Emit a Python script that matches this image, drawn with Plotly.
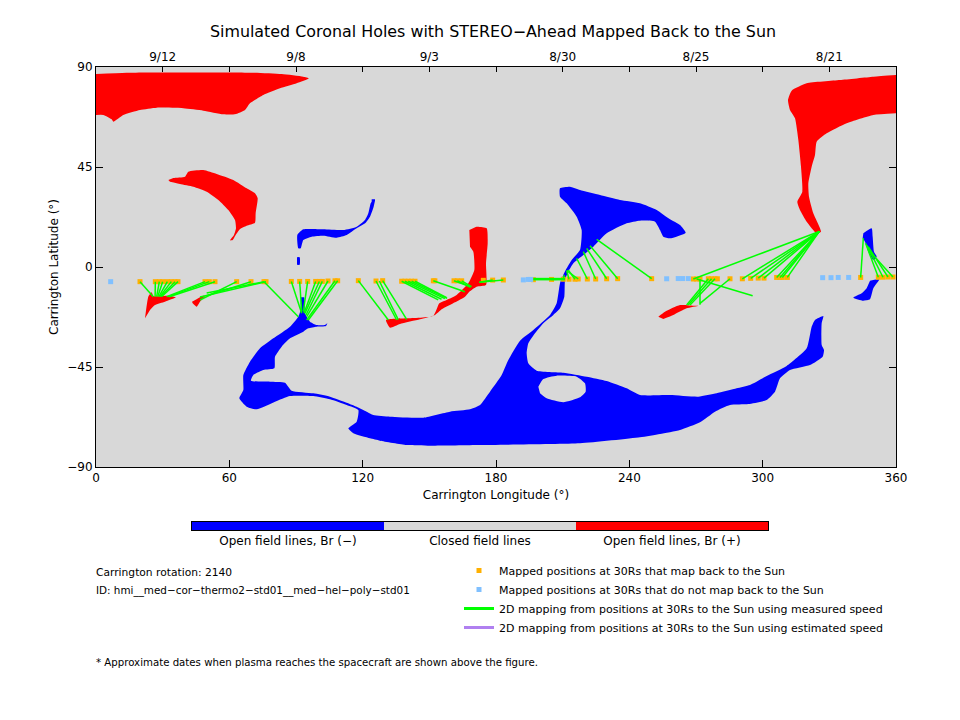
import plotly.graph_objects as go

# coronal hole outlines, (lon, lat) in degrees
red_cap_left = [(0,86.85),(13.8,87.45),(70.8,87.45),(83.55,86.85),(93.3,85.65),(95.85,84.9),(90.3,82.65),(82.8,80.4),
                (75.3,77.4),(69.3,73.65),(67.05,70.65),(62.55,68.7),(57.3,68.7),(48.3,70.35),(39.3,71.4),(27.3,71.7),
                (19.8,70.65),(12.3,68.4),(7.8,65.4),(7.05,66.45),(3.3,68.4),(0,68.4)]
red_crescent = [(32.55,39.15),(34.8,40.05),(40.05,40.65),(41.55,42.9),(48.3,43.65),(54.3,41.85),(61.8,39.15),(67.8,35.4),
                (71.55,33.15),(72.75,30.9),(71.85,24.15),(71.55,19.95),(67.8,18.6),(64.8,17.1),(62.85,14.4),(61.5,12.15),
                (60.3,12.0),(62.1,14.4),(63,17.4),(62.55,21.15),(59.55,25.65),(55.05,30.15),(49.8,33.9),(43.8,36.15),
                (37.8,37.35),(33.3,38.4)]
red_mid = [(168,16.65),(171.3,18.15),(175.8,17.4),(176.25,10.65),(175.5,1.65),(175.5,-8.1),(171.3,-8.85),(168,-11.1),
           (166.05,-13.35),(161.55,-15.9),(155.55,-19.05),(152.55,-21.6),(145.8,-23.55),(136.8,-25.65),(132.3,-27.3),
           (130.5,-23.85),(139.8,-23.1),(151.8,-21.9),(154.5,-16.35),(157.8,-14.85),(162.3,-12.6),(167.55,-7.35),
           (170.25,-1.35),(169.8,6.9),(168.3,9.15)]
red_cap_right = [(360,86.4),(349.8,85.65),(334.8,84.15),(319.8,82.65),(313.05,79.35),(311.4,75.15),(312.3,70.65),(314.55,66.9),
                 (316.05,57.15),(317.25,45.15),(317.85,33.9),(315.6,29.4),(316.8,25.65),(319.8,20.4),(324.3,15.15),(326.25,15.9),
                 (322.8,24.15),(320.85,31.65),(320.55,37.65),(322.05,45.15),(323.55,50.4),(324.3,56.4),(328.8,60.15),(337.8,64.65),
                 (349.8,68.4),(360,69.15)]
red_sliver = [(253.05,-22.35),(256.05,-20.1),(262.8,-17.1),(269.55,-17.4),(271.05,-17.4),(265.8,-18.6),(259.8,-21.6),(255.3,-23.4)]
red_fan = [(22.05,-23.1),(23.55,-13.35),(25.05,-11.4),(25.8,-13.05),(32.55,-12.9),(36,-13.65),(31.05,-15.6),(26.55,-17.1),(24.3,-19.35)]
red_spot = [(43.2,-15.6),(48.3,-12.9),(49.05,-13.05),(46.8,-15.6),(45.3,-17.85),(43.5,-16.35)]

blue_hook = [(124.05,30.45),(125.55,30.45),(124.95,27.15),(123.3,22.65),(121.05,19.65),(117.3,17.4),(112.8,14.4),(108.3,13.2),
             (102.3,14.1),(97.05,13.65),(93.3,12.15),(92.1,8.4),(91.05,8.4),(90.6,14.4),(93.3,16.95),(102.3,16.95),(111.3,16.65),
             (117.3,18.15),(121.05,21.15),(122.55,24.15),(123.6,28.65),(124.05,29.4)]
blue_dot = [(90.45,4.4),(91.65,4.4),(91.65,1),(90.45,1)]
blue_main = [(92.25,-13.65),(93.6,-13.65),(94.05,-20.85),(96.3,-24.6),(99.3,-26.1),(103.05,-26.1),(104.1,-25.35),(103.5,-26.55),
             (99.3,-26.85),(95.55,-27.6),(93.3,-29.1),(87.3,-32.1),(83.55,-35.85),(80.55,-40.35),(80.25,-45.6),(75.3,-46.35),
             (70.8,-48.6),(69.75,-51.15),(78.3,-51.6),(85.05,-52.05),(88.05,-55.65),(97.8,-56.85),(105.3,-58.35),(112.8,-61.05),
             (117.3,-62.85),(121.8,-65.1),(124.8,-66.6),(132.3,-67.35),(147.3,-67.8),(159.3,-65.1),(168.3,-64.05),(172.8,-62.1),
             (177.3,-56.1),(182.55,-48.6),(185.55,-41.85),(190.8,-33.15),(196.8,-28.35),(204.3,-21.6),(207.3,-16.35),(208.8,-7.35),
             (210.3,-3.6),(211.8,-0.6),(214.05,3.15),(217.8,7.65),(218.55,16.65),(216.3,22.65),(211.8,28.65),(208.8,31.65),
             (208.8,35.4),(213.3,36.15),(217.8,34.65),(226.8,32.4),(235.8,30.15),(244.8,28.65),(252.3,25.65),(258.3,21.45),
             (262.8,18.9),(265.35,15.45),(258.3,12.9),(255.3,13.65),(253.8,16.65),(251.55,20.4),(244.8,20.85),(238.8,19.65),
             (229.8,15.15),(223.8,9.15),(219.3,5.4),(214.8,1.65),(212.55,-2.1),(211.05,-5.85),(210.75,-13.35),(208.8,-18.6),
             (205.8,-21.6),(201.3,-25.35),(197.55,-29.85),(194.55,-34.35),(193.8,-38.85),(194.55,-43.35),(198.3,-46.65),(210.3,-47.55),
             (220.8,-49.35),(229.8,-51.3),(238.8,-54.6),(244.8,-57.6),(258.3,-57.6),(271.05,-58.35),(279.3,-56.85),(288.3,-54.6),
             (294.3,-53.1),(301.8,-49.05),(310.8,-44.55),(319.8,-36.6),(322.05,-26.85),(323.55,-23.85),(327.3,-22.05),(326.55,-25.35),
             (326.55,-35.1),(327.6,-37.35),(327,-40.35),(321.3,-44.1),(312.3,-46.35),(307.8,-50.1),(305.55,-56.1),(301.8,-59.85),
             (293.55,-61.65),(285.3,-62.1),(278.55,-65.1),(271.8,-69.9),(262.8,-73.35),(253.8,-75.15),(244.8,-76.65),(217.8,-79.35),
             (172.8,-80.1),(150.3,-80.4),(139.8,-80.1),(127.8,-78.15),(123.3,-77.1),(115.8,-74.85),(113.55,-72.6),(117.3,-69.6),
             (118.05,-64.35),(112.8,-62.1),(105.3,-59.55),(97.8,-58.05),(87.3,-58.05),(80.55,-60.6),(72.3,-64.05),(67.8,-62.85),
             (64.5,-59.1),(66.3,-55.35),(66.3,-48.6),(69.3,-42.6),(73.8,-36.6),(79.8,-32.1),(87.3,-26.85),(91.05,-22.35),(92.1,-19.35)]
closed_island = [(199.05,-53.85),(201.3,-50.4),(207.3,-48.9),(216.3,-49.35),(220.05,-52.35),(220.35,-56.1),(217.8,-58.65),
                 (210.3,-60.9),(202.8,-59.1),(199.8,-56.85)]
blue_right_up = [(345.3,15.15),(349.05,17.4),(349.5,13.65),(350.1,6.9),(351.3,4.65),(349.8,3.15),(347.55,6.9),(346.05,11.4),(345,12.9)]
blue_right_low = [(348.3,-6.15),(352.5,-5.55),(349.8,-9.6),(348.3,-14.55),(345.3,-15.15),(340.8,-13.8),(344.55,-11.85),(346.8,-9.6)]

# mapped positions at 30Rs
mapped_lon = [19.8,26.7,28.5,30,32.1,33.9,35.55,36.9,49.05,51,53.55,63.3,69.75,75.6,76.5,87.9,91.65,95.25,98.85,100.5,101.85,
              104.4,107.55,108.75,118.05,126,129,137.55,139,140.5,142,143.55,151.8,152.5,161.1,162.6,164.55,174.3,178.5,183.3,
              196.8,205,210.3,212.85,215.55,217,221.1,224.85,229.8,234.75,250.05,268.8,270.3,271.8,275.55,277,278.55,279.6,
              285.3,290.85,294.6,298,300.6,306.3,307.8,308.85,311.1,344.1,352.05,354.15,356.4,358.65]
mapped_lat = [-6.6,-6.6,-6.6,-6.6,-6.6,-6.6,-6.6,-6.6,-6.6,-6.6,-6.6,-6.6,-6.6,-6.6,-6.6,-6.5,-6.5,-6.5,-6.5,-6.5,-6.5,
              -6.3,-6.2,-6.2,-6.15,-6.3,-6.15,-6.4,-6.4,-6.4,-6.4,-6.4,-6.2,-6.2,-6.2,-6.2,-6.2,-6,-5.9,-5.85,
              -5.7,-5.6,-5.5,-5.5,-5.5,-5.4,-5.4,-5.4,-5.3,-5.25,-5.25,-5.4,-5.4,-5.4,-5.3,-5.3,-5.3,-5.3,
              -5.3,-5.3,-5.1,-5,-5,-4.7,-4.7,-4.7,-4.7,-4.7,-4.6,-4.6,-4.5,-4.5]
unmapped_lon = [6.6,192.3,194.55,195.6,256.8,262,264,266.55,327,330.75,334,338.7]
unmapped_lat = [-6.6,-5.8,-5.6,-5.6,-5.3,-5.2,-5.2,-5.2,-4.8,-4.8,-4.7,-4.7]

# 2D mapping: start at 30Rs, foot on the Sun
map_start_lon = [19.8,26.7,28.5,30,32.1,33.9,35.55,36.9,49.05,51,53.55,63.3,69.75,75.6,76.5,75.6,87.9,91.65,95.25,98.85,100.5,101.85,
                 104.4,107.55,108.75,118.05,126,127.5,129,137.55,139,140.5,142,143.55,151.8,161.1,162.6,164.55,178.5,183.3,
                 196.8,196.8,205,210.3,212.85,215.55,217,221.1,224.85,229.8,234.75,250.05,
                 268.8,290.85,294.6,298,300.6,306.3,307.8,308.85,311.1,
                 271.8,275.55,277,278.55,285.3,270.3,
                 344.1,352.05,354.15,356.4,358.65]
map_start_lat = [-6.6,-6.6,-6.6,-6.6,-6.6,-6.6,-6.6,-6.6,-6.6,-6.6,-6.6,-6.6,-6.6,-6.6,-6.6,-6.6,-6.5,-6.5,-6.5,-6.5,-6.5,-6.5,
                 -6.3,-6.2,-6.2,-6.15,-6.3,-6.3,-6.15,-6.4,-6.4,-6.4,-6.4,-6.4,-6.2,-6.2,-6.2,-6.2,-5.9,-5.85,
                 -5.7,-5.2,-5.6,-5.5,-5.5,-5.5,-5.4,-5.4,-5.4,-5.3,-5.25,-5.25,
                 -5.4,-5.3,-5.1,-5,-5,-4.7,-4.7,-4.7,-4.7,
                 -5.4,-5.3,-5.3,-5.3,-5.3,-5.4,
                 -4.7,-4.6,-4.6,-4.5,-4.5]
map_foot_lon = [25.8,26.6,27.3,27.8,28.3,28.8,29.2,29.6,31.8,32.5,33,46.8,49.8,49.8,46.8,91.05,92.55,92.55,93.3,93.6,94,94.5,
                94.8,94.8,95.55,131.55,135.3,136,139.8,154,155.5,157,158,157.8,166,168.3,168.6,169,172.5,172.5,
                211,211,211,210.7,211.8,212.5,211.8,216.3,219.3,220.8,222.3,225.3,
                325.5,325.5,325.5,325.5,325.5,325.5,325.5,325.5,325.5,
                271.8,265.8,266.5,267.3,271.8,295.5,
                345.3,346.3,346.8,347.5,348.3]
map_foot_lat = [-13.35,-13.3,-13.3,-13.3,-13.3,-13.3,-13.3,-13.3,-13.35,-13.35,-13.35,-14.85,-12.9,-11.7,-13.5,-22.35,-20.85,-20.1,-20.1,-20.85,-20.85,-21.6,
                -22.35,-23.85,-23.85,-23.85,-23.85,-23.7,-23.55,-14.8,-14.5,-14.2,-14.1,-13.8,-11.1,-8.85,-9.1,-8.85,-6.9,-6.9,
                -5.7,-5.2,-5.4,-3.6,-1.65,-1.35,-1.65,3.9,6.9,8.4,9.6,12.45,
                16,16,16,16,16,16,16,16,16,
                -17,-17.1,-17.1,-17.1,-16.35,-12.9,
                13,10.65,9.9,9.15,6.9]

date_lon = [30,60,90,120,150,180,210,240,270,300,330]
date_lab = ["9/12","","9/8","","9/3","","8/30","","8/25","","8/21"]
lon_ticks = [0,60,120,180,240,300,360]
lat_ticks = [-90,-45,0,45,90]
bar_vals = [0,1,2]
bar_labels = ["Open field lines, Br (\u2212)","Closed field lines","Open field lines, Br (+)"]

GREY = "#d8d8d8"
BLUE = "#0000ff"
RED = "#ff0000"
FONT = "DejaVu Sans"

fig = go.Figure()

def add_region(points, colour):
    fig.add_trace(go.Scatter(x=[p[0] for p in points], y=[p[1] for p in points], mode="lines", fill="toself",
                             fillcolor=colour, line=dict(width=0, shape="spline", smoothing=0.5), hoverinfo="skip", showlegend=False))

for region in [red_cap_left, red_crescent, red_mid, red_cap_right, red_sliver, red_fan, red_spot]:
    add_region(region, RED)
for region in [blue_hook, blue_dot, blue_main, blue_right_up, blue_right_low]:
    add_region(region, BLUE)
add_region(closed_island, GREY)

fig.add_trace(go.Scatter(x=mapped_lon, y=mapped_lat, mode="markers", marker=dict(symbol="square", size=5, color="#ffb000"),
                         name="Mapped positions at 30Rs that map back to the Sun"))
fig.add_trace(go.Scatter(x=unmapped_lon, y=unmapped_lat, mode="markers", marker=dict(symbol="square", size=5, color="#80c0ff"),
                         name="Mapped positions at 30Rs that do not map back to the Sun"))

line_x, line_y = [], []
for i in range(len(map_start_lon)):
    line_x += [map_start_lon[i], map_foot_lon[i], None]
    line_y += [map_start_lat[i], map_foot_lat[i], None]
fig.add_trace(go.Scatter(x=line_x, y=line_y, mode="lines", line=dict(color="#00ff00", width=1.5), showlegend=False))

# legend keys for the lines are thicker than the lines themselves
fig.add_trace(go.Scatter(x=[None], y=[None], mode="lines", line=dict(color="#00ff00", width=3),
                         name="2D mapping from positions at 30Rs to the Sun using measured speed"))
fig.add_trace(go.Scatter(x=[None], y=[None], mode="lines", line=dict(color="#b080f0", width=3),
                         name="2D mapping from positions at 30Rs to the Sun using estimated speed"))

# top date axis needs something attached to it
fig.add_trace(go.Scatter(x=date_lon, y=[None]*len(date_lon), xaxis="x2", showlegend=False, hoverinfo="skip"))

fig.add_trace(go.Heatmap(x=bar_vals, y=[0], z=[bar_vals], xaxis="x3", yaxis="y3", zmin=0, zmax=2, showscale=False, hoverinfo="skip",
                         colorscale=[[0,BLUE],[0.33,BLUE],[0.33,GREY],[0.67,GREY],[0.67,RED],[1,RED]]))

tickfont = dict(family=FONT, size=12, color="black")
legfont = dict(family=FONT, size=11, color="black")
fig.update_layout(
    width=960, height=720, margin=dict(l=0, r=0, t=0, b=0),
    paper_bgcolor="white", plot_bgcolor=GREY,
    font=dict(family=FONT, size=11, color="black"),
    title=dict(text="Simulated Coronal Holes with STEREO\u2212Ahead Mapped Back to the Sun", x=493/960, xanchor="center",
               y=1-31/720, yanchor="middle", font=dict(family=FONT, size=15.9, color="black")),
    xaxis=dict(domain=[96/960, 896/960], range=[0,360], tickvals=lon_ticks, ticks="inside", ticklen=7, tickcolor="black",
               automargin=False, showgrid=False, zeroline=False, showline=True, linecolor="black", linewidth=1, tickfont=tickfont,
               title=dict(text="Carrington Longitude (\u00b0)", font=tickfont, standoff=6)),
    yaxis=dict(domain=[1-467/720, 1-67/720], range=[-90,90], tickvals=lat_ticks, ticks="inside", ticklen=7, tickcolor="black",
               automargin=False, showgrid=False, zeroline=False, showline=True, linecolor="black", linewidth=1, mirror="ticks", tickfont=tickfont,
               title=dict(text="Carrington Latitude (\u00b0)", font=tickfont, standoff=6)),
    xaxis2=dict(overlaying="x", side="top", range=[0,360], tickvals=date_lon, ticktext=date_lab, ticks="inside", ticklen=5, automargin=False,
                tickcolor="black", showgrid=False, zeroline=False, showline=True, linecolor="black", linewidth=1, tickfont=tickfont),
    xaxis3=dict(domain=[192/960, 768/960], anchor="y3", range=[-0.5,2.5], tickvals=bar_vals, ticktext=bar_labels, ticks="", automargin=False,
                showgrid=False, zeroline=False, showline=True, mirror=True, linecolor="black", linewidth=1, tickfont=tickfont),
    yaxis3=dict(domain=[1-530/720, 1-522/720], anchor="x3", range=[-0.5,0.5], showticklabels=False, ticks="", showgrid=False, automargin=False,
                zeroline=False, showline=True, mirror=True, linecolor="black", linewidth=1),
    legend=dict(x=459/960, y=1-556/720, xanchor="left", yanchor="top", bgcolor="rgba(0,0,0,0)", font=legfont, tracegroupgap=0),
    showlegend=True,
)

notes = [("Carrington rotation: 2140", 572, 10.7),
         ("ID: hmi__med\u2212cor\u2212thermo2\u2212std01__med\u2212hel\u2212poly\u2212std01", 590, 10.4),
         ("* Approximate dates when plasma reaches the spacecraft are shown above the figure.", 662, 10.2)]
for text, py, size in notes:
    fig.add_annotation(text=text, xref="paper", yref="paper", x=94/960, y=1-py/720, xanchor="left", yanchor="middle",
                       showarrow=False, font=dict(family=FONT, size=size, color="black"))

fig.write_html("out.html", config=dict(displayModeBar=False), post_script="document.body.style.margin='0';")
